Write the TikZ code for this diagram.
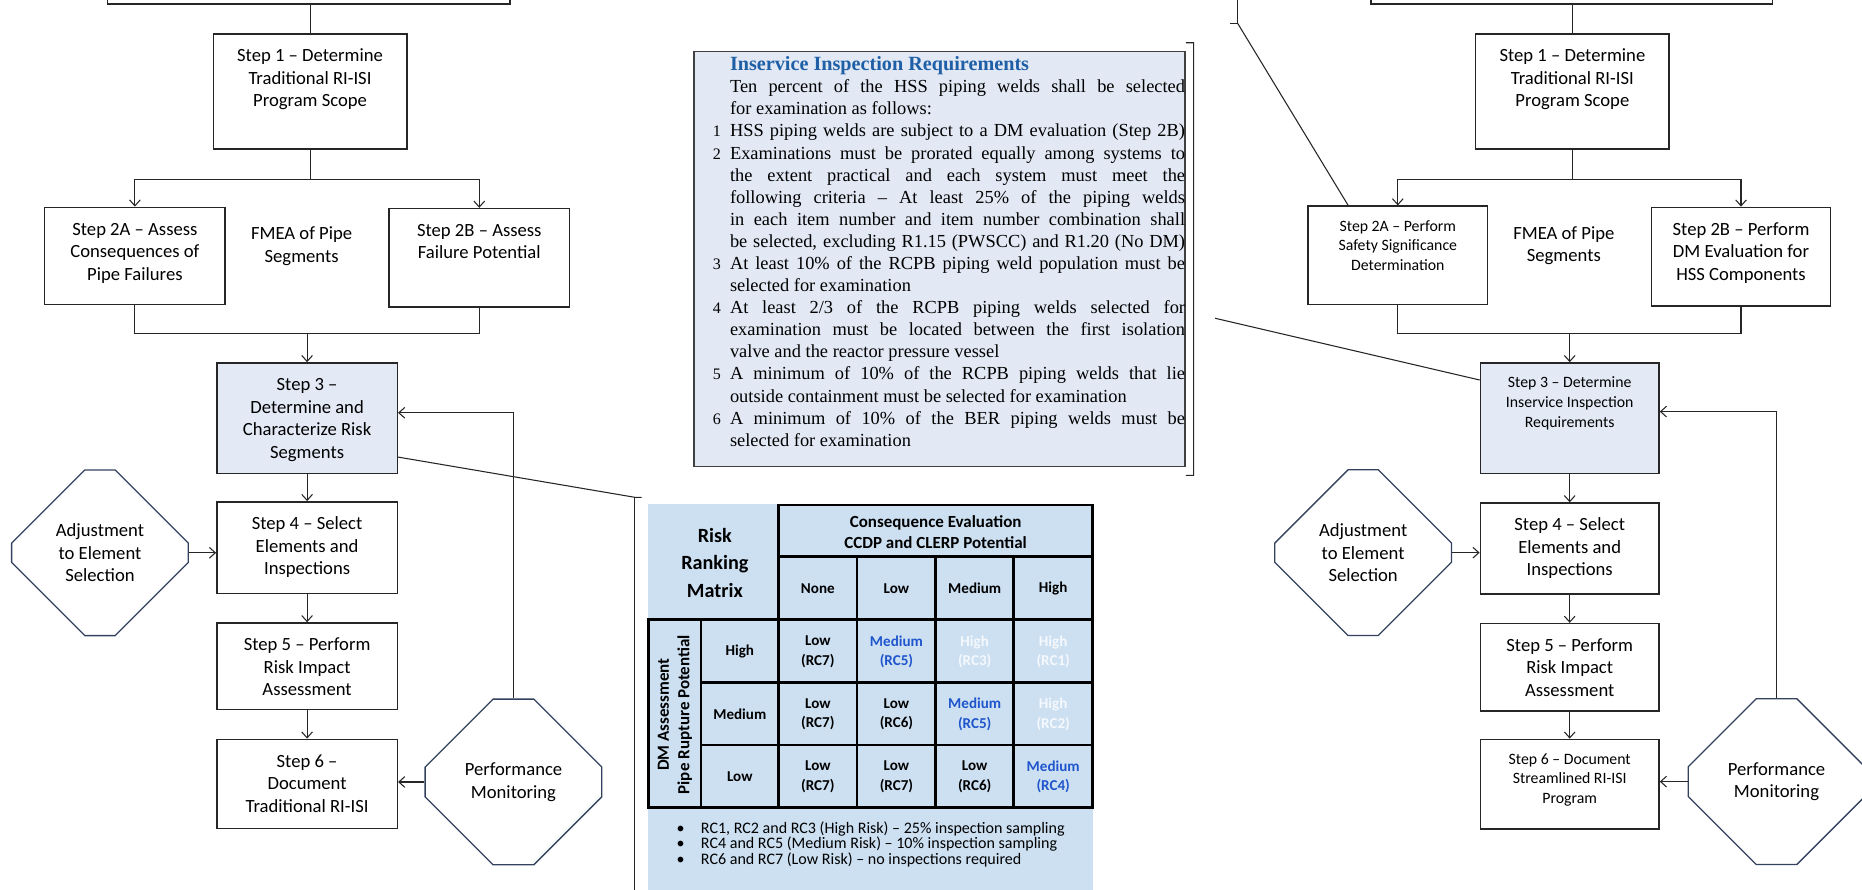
\documentclass[tikz,border=0pt]{standalone}
\usepackage{fontspec}
\setmainfont{Carlito}
\newfontfamily\notefont{Liberation Serif}
\usetikzlibrary{arrows.meta,positioning,shapes.misc}

\definecolor{stepfill}{HTML}{E3EAF6}
\definecolor{notefill}{HTML}{E2E9F5}
\definecolor{tablefill}{HTML}{CCE0F2}
\definecolor{octline}{HTML}{33425E}
\definecolor{titleblue}{HTML}{1F5FA6}
\definecolor{medblue}{HTML}{1F55CC}
\definecolor{highwhite}{HTML}{F5F8FC}

\newcommand{\stepfont}{\fontsize{15.7bp}{19bp}\selectfont}
\newcommand{\smallstepfont}{\fontsize{13.3bp}{16.5bp}\selectfont}
\newcommand{\cellfont}{\bfseries\fontsize{12.7bp}{16.3bp}\selectfont}
\newcommand{\headfont}{\bfseries\fontsize{14.3bp}{17.4bp}\selectfont}

% text hung from the top of a fixed box
\newcommand{\steptext}[4][10bp]{\parbox[c][#3][t]{#2}{\centering\vspace*{#1}\strut#4\par}}
% one line of the requirements note
\newcommand{\reqline}[3][s]{\hbox{\hspace*{8.5bp}\makebox[22bp]{\fontsize{13.5bp}{18.6bp}\selectfont#2}\makebox[383.2bp][#1]{#3}}}

\begin{document}
\begin{tikzpicture}[
  x=1bp, y=1bp,
  >={Straight Barb[length=5bp,width=9bp]},
  stepbox/.style={draw=black!85, line width=1.2bp, fill=white, inner sep=0pt,
    anchor=north west, font=\stepfont},
  smallbox/.style={stepbox, font=\smallstepfont},
  hot/.style={fill=stepfill},
  octbox/.style={chamfered rectangle, chamfered rectangle xsep=40.5bp,
    chamfered rectangle ysep=42bp, draw=octline, line width=1.1bp,
    minimum width=148.8bp, minimum height=139.5bp, inner sep=0pt,
    align=center, font=\stepfont},
  plain/.style={align=center, font=\stepfont},
  wire/.style={draw=black!85, line width=0.9bp},
  flow/.style={wire, ->},
  notebox/.style={draw=black!75, line width=1.3bp, fill=notefill, inner sep=0pt,
    anchor=north west, font=\notefont\fontsize{15.5bp}{18.6bp}\selectfont},
  grid/.style={line width=2.2bp},
  cell/.style={align=center, font=\cellfont},
  medcell/.style={cell, text=medblue},
  highcell/.style={cell, text=highwhite}
]
\useasboundingbox (0,0) rectangle (1568,-749);
\clip (0,0) rectangle (1568,-749);

% ---------------- traditional RI-ISI (left)
\node[stepbox, minimum width=339bp, minimum height=60bp, anchor=south west] (topL) at (90,-4) {};
\node[stepbox] (s1L) at (179,-28) {\steptext{163bp}{97bp}{Step 1 – Determine\\Traditional RI-ISI\\Program Scope}};
\node[stepbox] (s2aL) at (37,-174) {\steptext{152bp}{82bp}{Step 2A – Assess\\Consequences of\\Pipe Failures}};
\node[plain] (fmeaL) at (254,-207.5) {FMEA of Pipe\\Segments};
\node[stepbox] (s2bL) at (327,-175) {\steptext{152bp}{83bp}{Step 2B – Assess\\Failure Potential}};
\node[stepbox, hot] (s3L) at (182,-305) {\steptext{152bp}{93bp}{Step 3 –\\Determine and\\Characterize Risk\\Segments}};
\node[stepbox] (s4L) at (182,-422) {\steptext{152bp}{77bp}{Step 4 – Select\\Elements and\\Inspections}};
\node[stepbox] (s5L) at (182,-524) {\steptext{152bp}{73bp}{Step 5 – Perform\\Risk Impact\\Assessment}};
\node[stepbox] (s6L) at (182,-622) {\steptext{152bp}{75bp}{Step 6 –\\Document\\Traditional RI-ISI}};
\node[octbox] (adjL) at (84.2,-465.5) {Adjustment\\to Element\\Selection};
\node[octbox] (perfL) at (432.4,-658.5) {Performance\\Monitoring};

\draw[wire] (s1L.north) -- (s1L.north |- topL.south);
\draw[wire] (s1L.south) -- ++(0,-25) coordinate (forkL);
\draw[flow] (forkL) -| (s2aL.north);
\draw[flow] (forkL) -| (s2bL.north);
\draw[wire] (s2aL.south) -- ++(0,-24) coordinate (joinL) -| (s2bL.south);
\draw[flow] (s3L.north |- joinL) -- (s3L.north);
\draw[flow] (s3L) -- (s4L);
\draw[flow] (s4L) -- (s5L);
\draw[flow] (s5L) -- (s6L);
\draw[flow] (adjL.east) -- (adjL.east -| s4L.west);
\draw[flow] (perfL.west) -- (perfL.west -| s6L.east);
\draw[flow] (perfL.north) |- ([yshift=4.5bp]s3L.east);

% ---------------- streamlined RI-ISI (right)
\node[stepbox, minimum width=338bp, minimum height=60bp, anchor=south west] (topR) at (1154,-4) {};
\node[stepbox] (s1R) at (1242,-28) {\steptext{163bp}{97bp}{Step 1 – Determine\\Traditional RI-ISI\\Program Scope}};
\node[smallbox] (s2aR) at (1101,-173) {\steptext[9.5bp]{151bp}{83bp}{Step 2A – Perform\\Safety Significance\\Determination}};
\node[plain] (fmeaR) at (1316.9,-207) {FMEA of Pipe\\Segments};
\node[stepbox] (s2bR) at (1390,-174) {\steptext{151bp}{83bp}{Step 2B – Perform\\DM Evaluation for\\HSS Components}};
\node[smallbox, hot] (s3R) at (1246,-305) {\steptext[9.5bp]{150.5bp}{93bp}{Step 3 – Determine\\Inservice Inspection\\Requirements}};
\node[stepbox] (s4R) at (1246,-423) {\steptext{150.5bp}{76.5bp}{Step 4 – Select\\Elements and\\Inspections}};
\node[stepbox] (s5R) at (1246,-524.5) {\steptext{150.5bp}{73.5bp}{Step 5 – Perform\\Risk Impact\\Assessment}};
\node[smallbox] (s6R) at (1246,-622) {\steptext[9.5bp]{150.5bp}{75.5bp}{Step 6 – Document\\Streamlined RI-ISI\\Program}};
\node[octbox] (adjR) at (1147.9,-465.4) {Adjustment\\to Element\\Selection};
\node[octbox] (perfR) at (1496,-658.2) {Performance\\Monitoring};

\draw[wire] (s1R.north) -- (s1R.north |- topR.south);
\draw[wire] (s1R.south) -- ++(0,-25) coordinate (forkR);
\draw[flow] (forkR) -| (s2aR.north);
\draw[flow] (forkR) -| (s2bR.north);
\draw[wire] (s2aR.south) -- ++(0,-24) coordinate (joinR) -| (s2bR.south);
\draw[flow] (s3R.north |- joinR) -- (s3R.north);
\draw[flow] (s3R) -- (s4R);
\draw[flow] (s4R) -- (s5R);
\draw[flow] (s5R) -- (s6R);
\draw[flow] (adjR.east) -- (adjR.east -| s4R.west);
\draw[flow] (perfR.west) -- (perfR.west -| s6R.east);
\draw[flow] (perfR.north) |- ([yshift=5.5bp]s3R.east);

% ---------------- inservice inspection note
\node[notebox] (note) at (583.6,-42.7) {\parbox[c][349.3bp][t]{433.1bp}{%
  \vspace*{3.2bp}%
  \hbox{\hspace*{30.5bp}\rule{0pt}{12.6bp}{\fontsize{17bp}{18.6bp}\selectfont\bfseries\color{titleblue}Inservice Inspection Requirements}}
  \vspace{0.4bp}
  \reqline{}{Ten percent of the HSS piping welds shall be selected}
  \reqline[l]{}{for examination as follows:}
  \reqline{1}{HSS piping welds are subject to a DM evaluation (Step 2B)}
  \reqline{2}{Examinations must be prorated equally among systems to}
  \reqline{}{the extent practical and each system must meet the}
  \reqline{}{following criteria – At least 25\% of the piping welds}
  \reqline{}{in each item number and item number combination shall}
  \reqline{}{be selected, excluding R1.15 (PWSCC) and R1.20 (No DM)}
  \reqline{3}{At least 10\% of the RCPB piping weld population must be}
  \reqline[l]{}{selected for examination}
  \reqline{4}{At least 2/3 of the RCPB piping welds selected for}
  \reqline{}{examination must be located between the first isolation}
  \reqline[l]{}{valve and the reactor pressure vessel}
  \reqline{5}{A minimum of 10\% of the RCPB piping welds that lie}
  \reqline[l]{}{outside containment must be selected for examination}
  \reqline{6}{A minimum of 10\% of the BER piping welds must be}
  \reqline[l]{}{selected for examination}}};

% brackets and call-out lines
\coordinate (brkN) at (1023.2,-268);
\draw[wire] ([yshift=6.7bp]note.north east) -- ++(6.5,0) -- ([shift={(6.5bp,-7bp)}]note.south east) -- ([yshift=-7bp]note.south east);
\draw[wire] (brkN) -- ([yshift=-15bp]s3R.north west);
\coordinate (brkA) at (1042.2,-19.6);
\draw[wire] (1042.2,10) -- (brkA) -- ++(-6.4,0);
\draw[wire] (brkA) -- ([xshift=-41.8bp]s2aR.north);
\coordinate (brkM) at (534.7,-418.8);
\draw[wire] ([yshift=14.3bp]s3L.south east) -- (brkM) -- ++(5.7,0);
\draw[wire] (brkM) -- (534.7,-760);

% ---------------- risk ranking matrix
\fill[tablefill] (546,-424.4) rectangle (920.7,-760);
\draw[grid] (655.7,-425.2) rectangle (920.1,-680.1);
\draw[grid] (546,-521.5) rectangle (920.1,-680.1);
\draw[grid] (655.7,-468.8) -- (920.1,-468.8);
\draw[grid] (590.3,-574.9) -- (920.1,-574.9) (590.3,-627.4) -- (920.1,-627.4);
\draw[grid] (590.3,-521.5) -- (590.3,-680.1);
\foreach \x in {721.7,788,853.6}
  \draw[grid] (\x,-468.8) -- (\x,-680.1);

\node[align=center, font=\bfseries\fontsize{17bp}{23bp}\selectfont] (rrm) at (602,-474) {Risk\\Ranking\\Matrix};
\node[cell, font=\headfont] (cons) at (787.9,-448) {Consequence Evaluation\\CCDP and CLERP Potential};
\foreach \lbl/\x [count=\i] in {None/688.7, Low/754.9, Medium/820.8, High/886.9}
  \node[cell] (col\i) at (\x,-495.5) {\lbl};
\foreach \lbl/\y [count=\i] in {High/-548.8, Medium/-601.5, Low/-654}
  \node[cell] (row\i) at (623,\y) {\lbl};
\node[cell, font=\headfont, rotate=90] (dm) at (568.4,-601.8) {DM Assessment\\Pipe Rupture Potential};

\node[cell] (c11) at (688.7,-548.8) {Low\\(RC7)};
\node[medcell] (c12) at (754.9,-548.8) {Medium\\(RC5)};
\node[highcell] (c13) at (820.8,-548.8) {High\\(RC3)};
\node[highcell] (c14) at (886.9,-548.8) {High\\(RC1)};
\node[cell] (c21) at (688.7,-601.5) {Low\\(RC7)};
\node[cell] (c22) at (754.9,-601.5) {Low\\(RC6)};
\node[medcell] (c23) at (820.8,-601.5) {Medium\\(RC5)};
\node[highcell] (c24) at (886.9,-601.5) {High\\(RC2)};
\node[cell] (c31) at (688.7,-654) {Low\\(RC7)};
\node[cell] (c32) at (754.9,-654) {Low\\(RC7)};
\node[cell] (c33) at (820.8,-654) {Low\\(RC6)};
\node[medcell] (c34) at (886.9,-654) {Medium\\(RC4)};

\node[anchor=west, align=left, inner sep=0pt, font=\fontsize{13.5bp}{13.1bp}\selectfont] (key) at (569.5,-711) {%
  \makebox[20.6bp][l]{\textbullet}RC1, RC2 and RC3 (High Risk) – 25\% inspection sampling\\
  \makebox[20.6bp][l]{\textbullet}RC4 and RC5 (Medium Risk) – 10\% inspection sampling\\
  \makebox[20.6bp][l]{\textbullet}RC6 and RC7 (Low Risk) – no inspections required};
\end{tikzpicture}
\end{document}
